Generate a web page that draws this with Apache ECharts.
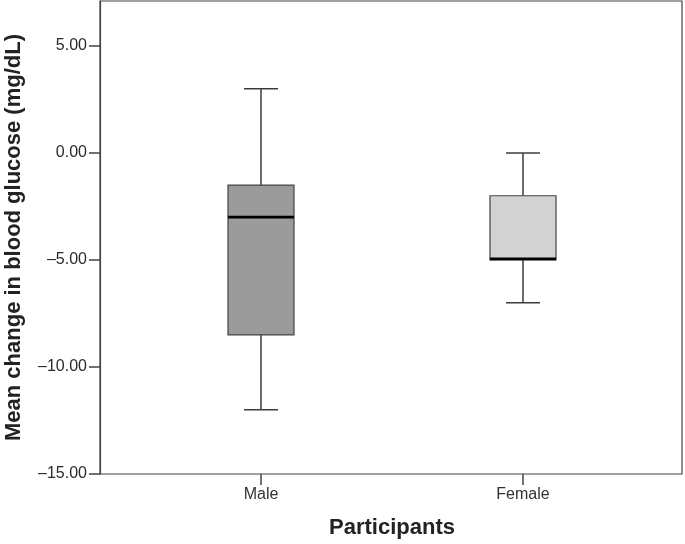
<!DOCTYPE html>
<html>
<head>
<meta charset="utf-8">
<script src="https://cdn.jsdelivr.net/npm/echarts@6/dist/echarts.min.js"></script>
<style>
  html, body { margin: 0; padding: 0; background: #fff; }
  #chart { width: 685px; height: 544px; }
</style>
</head>
<body>
<div id="chart"></div>
<script>
// Data
const categories = ['Male', 'Female'];
const whiskerLow  = [-12, -7];
const quartile1   = [-8.5, -5];
const medians     = [-3, -4.95];
const quartile3   = [-1.5, -2];
const whiskerHigh = [3, 0];
const boxColors   = ['#9b9b9b', '#d2d2d2'];
const yTicks      = [-15, -10, -5, 0, 5];

const boxData = categories.map((c, i) => [i, whiskerLow[i], quartile1[i], medians[i], quartile3[i], whiskerHigh[i]]);

const chart = echarts.init(document.getElementById('chart'));
const FONT = '"Liberation Sans", Arial, sans-serif';
const lineColor = '#444';

chart.setOption({
  animation: false,
  backgroundColor: '#ffffff',
  grid: [
    { left: 100, right: 3, top: 1, bottom: 70, outerBoundsMode: 'none', containLabel: false,
      show: true, borderColor: lineColor, borderWidth: 1.2, backgroundColor: 'transparent' },
    { left: 130, right: 31, top: 1, bottom: 70, outerBoundsMode: 'none', containLabel: false }
  ],
  xAxis: [
    { type: 'value', gridIndex: 0, show: false, min: 0, max: 1 },
    {
      type: 'category', gridIndex: 1, data: categories, boundaryGap: true, position: 'bottom',
      axisLine: { show: false, onZero: false },
      axisTick: { show: true, alignWithLabel: true, length: 11, lineStyle: { color: lineColor, width: 1.5 } },
      axisLabel: { color: '#333', fontSize: 16, fontFamily: FONT, margin: 13 },
      name: 'Participants', nameLocation: 'middle', nameGap: 43,
      nameTextStyle: { color: '#222', fontSize: 22, fontWeight: 'bold', fontFamily: FONT }
    }
  ],
  yAxis: [
    {
      type: 'value', gridIndex: 0, min: -15, max: 7.1, interval: 5,
      splitLine: { show: false },
      axisLine: { show: true, lineStyle: { color: lineColor, width: 1.2 } },
      axisTick: { show: true, length: 11, customValues: yTicks, lineStyle: { color: lineColor, width: 1.5 } },
      axisLabel: {
        color: '#2a2a2a', fontSize: 16, fontFamily: FONT, margin: 13,
        customValues: yTicks,
        formatter: v => (v < 0 ? '\u2013' : '') + Math.abs(v).toFixed(2)
      },
      name: 'Mean change in blood glucose (mg/dL)', nameLocation: 'middle', nameGap: 75,
      nameTextStyle: { color: '#222', fontSize: 22, fontWeight: 'bold', fontFamily: FONT }
    },
    { type: 'value', gridIndex: 1, min: -15, max: 7.1, show: false, splitLine: { show: false } }
  ],
  series: [
    {
      type: 'custom',
      xAxisIndex: 1, yAxisIndex: 1,
      data: boxData,
      renderItem: function (params, api) {
        const i = api.value(0);
        const band = api.size([1, 0])[0];
        const half = band * 0.126;
        const cap = band * 0.065;
        const pLo = api.coord([i, api.value(1)]);
        const pQ1 = api.coord([i, api.value(2)]);
        const pMd = api.coord([i, api.value(3)]);
        const pQ3 = api.coord([i, api.value(4)]);
        const pHi = api.coord([i, api.value(5)]);
        const cx = pLo[0];
        const wStyle = { stroke: '#3c3c3c', lineWidth: 1.5 };
        return {
          type: 'group',
          children: [
            { type: 'line', shape: { x1: cx, y1: pHi[1], x2: cx, y2: pQ3[1] }, style: wStyle },
            { type: 'line', shape: { x1: cx, y1: pQ1[1], x2: cx, y2: pLo[1] }, style: wStyle },
            { type: 'line', shape: { x1: cx - cap, y1: pHi[1], x2: cx + cap, y2: pHi[1] }, style: wStyle },
            { type: 'line', shape: { x1: cx - cap, y1: pLo[1], x2: cx + cap, y2: pLo[1] }, style: wStyle },
            { type: 'rect', shape: { x: cx - half, y: pQ3[1], width: half * 2, height: pQ1[1] - pQ3[1] },
              style: { fill: boxColors[params.dataIndex], stroke: '#444', lineWidth: 1.2 } },
            { type: 'line', shape: { x1: cx - half, y1: pMd[1], x2: cx + half, y2: pMd[1] },
              style: { stroke: '#000', lineWidth: 2.6 } }
          ]
        };
      }
    }
  ]
});
</script>
</body>
</html>
